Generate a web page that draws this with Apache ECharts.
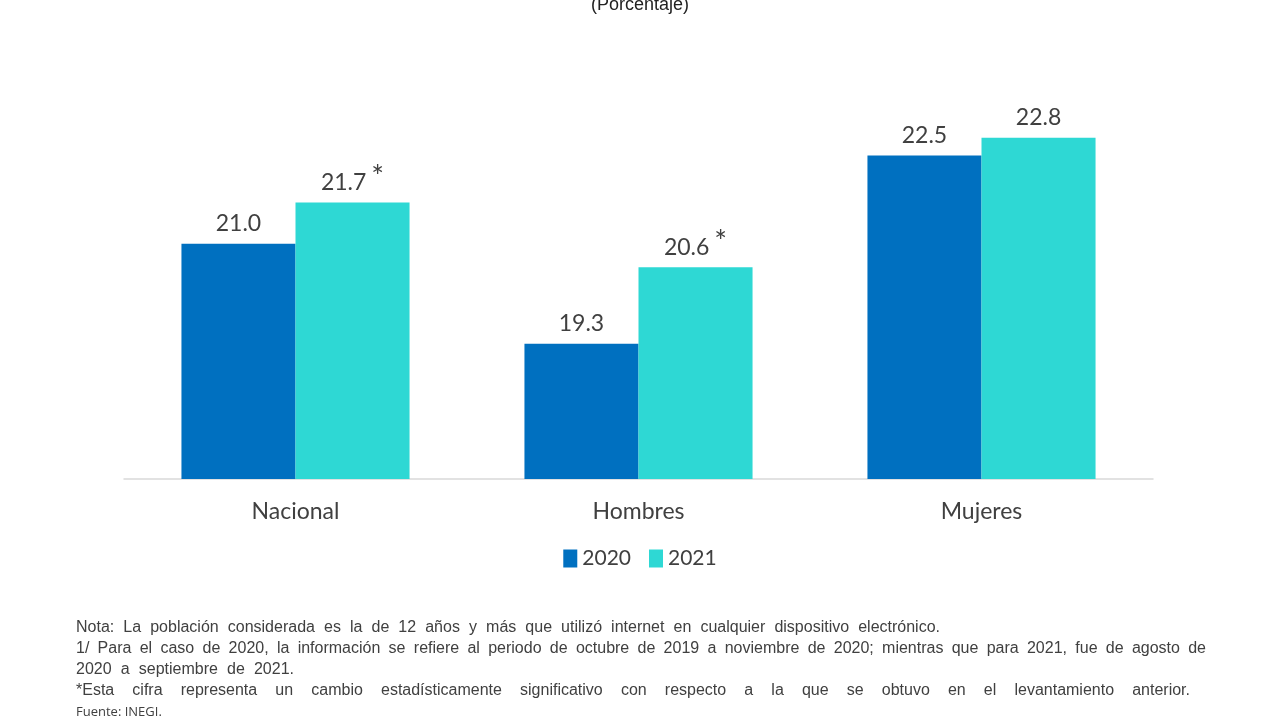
<!DOCTYPE html>
<html>
<head>
<meta charset="utf-8">
<script src="https://cdn.jsdelivr.net/npm/echarts@6/dist/echarts.min.js"></script>
<style>
  html, body {margin: 0; padding: 0; background: #fff;}
  #chart {width: 1280px; height: 720px;}
</style>
</head>
<body>
<div id="chart"></div>
<script>
// data
const categories = ['Nacional', 'Hombres', 'Mujeres'];
const seriesNames = ['2020', '2021'];
const values2020 = [21.0, 19.3, 22.5];
const values2021 = [21.7, 20.6, 22.8];
// significant change marks (per category, 2021 only)
const marks2021 = ['*', '*', ''];
const notes = [
    'Nota: La población considerada es la de 12 años y más que utilizó internet en cualquier dispositivo electrónico.',
    '1/ Para el caso de 2020, la información se refiere al periodo de octubre de 2019 a noviembre de 2020; mientras que para 2021, fue de agosto de',
    '2020 a septiembre de 2021.',
    '*Esta cifra representa un cambio estadísticamente significativo con respecto a la que se obtuvo en el levantamiento anterior.'
];
// width each note line is stretched to (0 = natural width)
const noteWidths = [864, 1130, 218, 1114];
const source = 'Fuente: INEGI.';

const chart = echarts.init(document.getElementById('chart'));

const labelFont = 'Lato, "Open Sans", sans-serif';
const textColor = '#404040';
const noteFont = '16px "Liberation Sans", Arial, sans-serif';

function valueLabel (marks){
    return {
        show: true,
        position: 'top',
        distance: 0,
        formatter: p => {
            let m = marks ? marks[p.dataIndex] : '';
            return '{v|' + p.value.toFixed(1) + '}' + (m ? '{s|' + m + '}' : '');
        },
        rich: {
            v: {fontFamily: labelFont, fontSize: 23, lineHeight: 40, color: textColor},
            // asterisk sits raised, like a superscript
            s: {fontFamily: labelFont, fontSize: 30, lineHeight: 24, color: textColor, padding: [0, 0, 0, 5], verticalAlign: 'top'}
        }
    };
}

// justify a line by spreading its words over a given width
const measureCtx = document.createElement('canvas').getContext('2d');
function noteLine (text, x, y, width){
    if (!width){
        return [{type: 'text', left: x, top: y, style: {text: text, font: noteFont, fill: textColor}}];
    }
    measureCtx.font = noteFont;
    let words = text.split(' ');
    let total = words.reduce((s, w) => s + measureCtx.measureText(w).width, 0);
    let gap = (width - total) / (words.length - 1);
    let cx = x;
    return words.map(w => {
        let el = {type: 'text', x: cx, y: y, style: {text: w, font: noteFont, fill: textColor}};
        cx += measureCtx.measureText(w).width + gap;
        return el;
    });
}

let graphics = [{
    type: 'text',
    left: 'center',
    top: -4,
    style: {text: '(Porcentaje)', font: '18px "Liberation Sans", Arial, sans-serif', fill: '#222'}
}];
notes.forEach((line, i) => {
    graphics = graphics.concat(noteLine(line, 76, 620 + i * 21, noteWidths[i]));
});
graphics.push({
    type: 'text',
    left: 76,
    top: 706,
    style: {text: source, font: '13px "Open Sans", sans-serif', fill: textColor}
});

chart.setOption({
    animation: false,
    grid: {left: 124, right: 127, top: 126, bottom: 241},
    legend: {
        data: seriesNames,
        top: 543,
        left: 'center',
        itemWidth: 14,
        itemHeight: 18,
        itemGap: 18,
        icon: 'rect',
        textStyle: {fontFamily: labelFont, fontSize: 21, color: textColor}
    },
    xAxis: {
        type: 'category',
        data: categories,
        axisLine: {lineStyle: {color: '#d9d9d9', width: 1.5}},
        axisTick: {show: false},
        axisLabel: {fontFamily: labelFont, fontSize: 23, color: textColor, margin: 21}
    },
    yAxis: {
        type: 'value',
        min: 17,
        max: 23,
        show: false
    },
    series: [{
        name: seriesNames[0],
        type: 'bar',
        data: values2020,
        barGap: '0%',
        barCategoryGap: '33.5%',
        itemStyle: {color: '#0070C0'},
        label: valueLabel(null)
    }, {
        name: seriesNames[1],
        type: 'bar',
        data: values2021,
        itemStyle: {color: '#2ED8D4'},
        label: valueLabel(marks2021)
    }],
    graphic: graphics
});
</script>
</body>
</html>
